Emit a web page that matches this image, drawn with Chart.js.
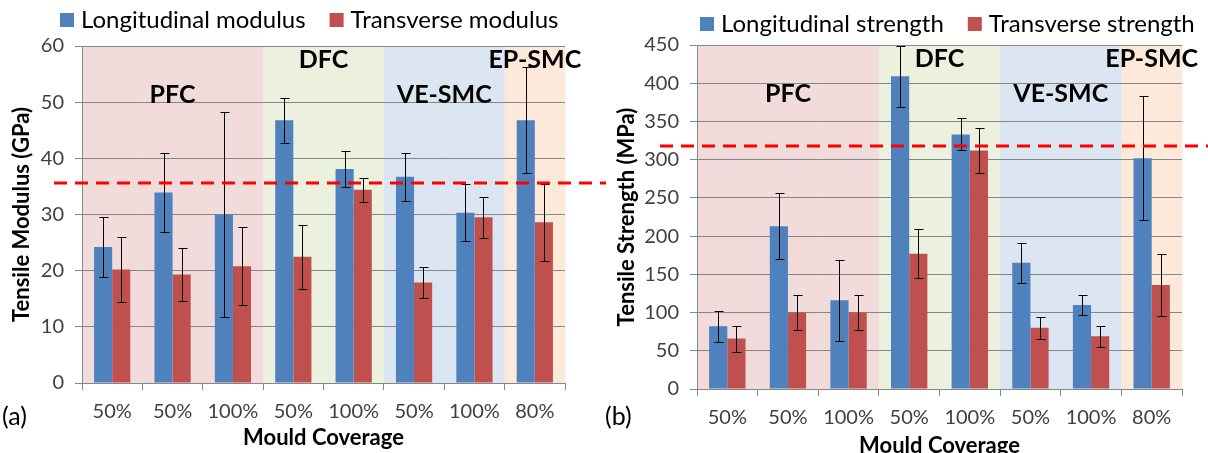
<!DOCTYPE html>
<html>
<head>
<meta charset="utf-8">
<script src="https://cdn.jsdelivr.net/npm/chart.js@4.4.0/dist/chart.umd.min.js"></script>
<style>
body{margin:0;background:#fff;overflow:hidden;width:1208px;height:453px;position:relative}
#wrapA{position:absolute;left:0;top:0;width:606px;height:453px}
#wrapB{position:absolute;left:600px;top:0;width:608px;height:462px}
</style>
</head>
<body>
<div id="wrapA"><canvas id="modChart" width="606" height="453"></canvas></div>
<div id="wrapB"><canvas id="strChart" width="608" height="462"></canvas></div>
<script>

// mould coverage for each sample, and which material it belongs to
var categories = ['50%','50%','100%','50%','100%','50%','100%','80%']
var groupOf = ['PFC','PFC','PFC','DFC','DFC','VE-SMC','VE-SMC','EP-SMC']

// (a) tensile modulus, GPa  (value +/- error)
var modLong     = [24.2, 33.9, 30.0, 46.8, 38.1, 36.7, 30.3, 46.8]
var modLongErr  = [5.3, 7.0, 18.2, 4.0, 3.2, 4.3, 5.1, 9.4]
var modTrans    = [20.2, 19.3, 20.8, 22.5, 34.4, 17.9, 29.5, 28.6]
var modTransErr = [5.8, 4.7, 6.9, 5.7, 2.1, 2.7, 3.7, 6.9]
var modRef = 35.6
var modTicks = [0, 10, 20, 30, 40, 50, 60]

// (b) tensile strength, MPa
var strLong     = [82, 213, 116, 409, 333, 165, 110, 302]
var strLongErr  = [20, 43, 53, 40, 21, 26, 13, 81]
var strTrans    = [66, 100, 100, 177, 312, 80, 69, 136]
var strTransErr = [17, 23, 23, 32, 29, 14, 14, 41]
var strRef = 318
var strTicks = [0, 50, 100, 150, 200, 250, 300, 350, 400, 450]

var bandColors = {'PFC':'#f2dcdb', 'DFC':'#ebf1de', 'VE-SMC':'#dce6f2', 'EP-SMC':'#fde9d9'}
var upperLabels = ['DFC', 'EP-SMC']

var FONT = 'Lato'

var decor = {
    id: 'decor',
    beforeDraw: function(chart, args, opt){
        var ctx = chart.ctx, x = chart.scales.x, a = chart.chartArea
        var half = (x.getPixelForValue(1) - x.getPixelForValue(0)) / 2
        ctx.save()
        for (var i = 0; i < groupOf.length; i++){
            ctx.fillStyle = bandColors[groupOf[i]]
            var l = x.getPixelForValue(i) - half
            ctx.fillRect(l, a.top, half * 2 + 0.5, a.bottom - a.top)
        }
        ctx.restore()
    },
    afterDatasetsDraw: function(chart, args, opt){
        var ctx = chart.ctx, x = chart.scales.x, y = chart.scales.y, a = chart.chartArea
        ctx.save()

        // group labels
        var seen = []
        ctx.font = 'bold 25px ' + FONT
        ctx.fillStyle = '#000'
        ctx.textAlign = 'center'
        ctx.textBaseline = 'middle'
        groupOf.forEach(function(g, i){
            if (seen.indexOf(g) >= 0) return
            seen.push(g)
            var last = groupOf.lastIndexOf(g)
            var cx = (x.getPixelForValue(i) + x.getPixelForValue(last)) / 2
            var cy = a.top + (upperLabels.indexOf(g) >= 0 ? 14 : 49)
            ctx.fillText(g, cx, cy)
        })

        // error bars
        ctx.strokeStyle = '#000'
        ctx.lineWidth = 1
        chart.data.datasets.forEach(function(ds, i){
            var meta = chart.getDatasetMeta(i)
            meta.data.forEach(function(bar, j){
                var v = ds.data[j], e = ds.err[j]
                var bx = Math.round(bar.x) + 0.5
                var yh = Math.round(y.getPixelForValue(v + e)) + 0.5
                var yl = Math.round(y.getPixelForValue(v - e)) + 0.5
                ctx.beginPath()
                ctx.moveTo(bx, yh); ctx.lineTo(bx, yl)
                ctx.moveTo(bx - 4, yh); ctx.lineTo(bx + 5, yh)
                ctx.moveTo(bx - 4, yl); ctx.lineTo(bx + 5, yl)
                ctx.stroke()
            })
        })

        // reference line
        var ry = y.getPixelForValue(opt.ref)
        ctx.strokeStyle = '#ff0000'
        ctx.lineWidth = 3
        ctx.setLineDash([13, 8])
        ctx.beginPath()
        ctx.moveTo(opt.refStart, ry)
        ctx.lineTo(chart.width, ry)
        ctx.stroke()
        ctx.setLineDash([])
        ctx.restore()
    },
    afterDraw: function(chart, args, opt){
        var ctx = chart.ctx
        ctx.save()
        // legend
        ctx.font = '24px ' + FONT
        ctx.textBaseline = 'middle'
        ctx.textAlign = 'left'
        var lx = opt.legendX
        chart.data.datasets.forEach(function(ds){
            ctx.fillStyle = ds.backgroundColor
            ctx.fillRect(lx, opt.legendY - 7, 14, 14)
            ctx.fillStyle = '#000'
            ctx.fillText(ds.label, lx + 21, opt.legendY)
            lx += 21 + ctx.measureText(ds.label).width + 24
        })
        // panel tag
        ctx.font = '25px ' + FONT
        ctx.fillText(opt.tag, opt.tagX, 417)
        ctx.restore()
    }
}

function makeChart(id, o){
    var ctx = document.getElementById(id).getContext('2d')
    return new Chart(ctx, {
        type: 'bar',
        data: {
            labels: categories,
            datasets: [
                {label: o.names[0], data: o.long, err: o.longErr, backgroundColor: '#4f81bd',
                 categoryPercentage: 0.6, barPercentage: 1},
                {label: o.names[1], data: o.trans, err: o.transErr, backgroundColor: '#c0504d',
                 categoryPercentage: 0.6, barPercentage: 1}
            ]
        },
        options: {
            responsive: false,
            animation: false,
            layout: {padding: {top: o.top, right: o.right, left: 0, bottom: 0}},
            plugins: {
                legend: {display: false},
                tooltip: {enabled: false},
                decor: {ref: o.ref, refStart: o.refStart, legendX: o.legendX, legendY: o.legendY, tag: o.tag, tagX: o.tagX}
            },
            scales: {
                x: {
                    grid: {offset: true, drawOnChartArea: false, tickLength: 7, color: '#868686'},
                    border: {color: '#868686'},
                    ticks: {font: {family: FONT, size: 20}, color: '#404040', padding: 10},
                    title: {display: true, text: 'Mould Coverage', color: '#000',
                            font: {family: FONT, size: 22, weight: 'bold'},
                            padding: {top: 0, bottom: o.xTitlePad}},
                    afterFit: function(s){ s.height = o.xHeight }
                },
                y: {
                    min: o.ticks[0], max: o.ticks[o.ticks.length - 1],
                    afterBuildTicks: function(s){ s.ticks = o.ticks.map(function(v){ return {value: v} }) },
                    grid: {color: '#868686', tickLength: 7},
                    border: {color: '#868686'},
                    ticks: {font: {family: FONT, size: 20}, color: '#404040', padding: 11},
                    title: {display: true, text: o.yTitle, color: '#000',
                            font: {family: FONT, size: 22, weight: 'bold'},
                            padding: {top: o.yTitlePad, bottom: 0}},
                    afterFit: function(s){ s.width = o.yWidth }
                }
            }
        },
        plugins: [decor]
    })
}

makeChart('modChart', {
    names: ['Longitudinal modulus', 'Transverse modulus'],
    long: modLong, longErr: modLongErr, trans: modTrans, transErr: modTransErr,
    ticks: modTicks, ref: modRef, yTitle: 'Tensile Modulus (GPa)',
    top: 46, right: 41, yWidth: 82, xHeight: 70, yTitlePad: 9, xTitlePad: 2,
    refStart: 54, legendX: 60, legendY: 20, tag: '(a)', tagX: 2
})

makeChart('strChart', {
    names: ['Longitudinal strength', 'Transverse strength'],
    long: strLong, longErr: strLongErr, trans: strTrans, transErr: strTransErr,
    ticks: strTicks, ref: strRef, yTitle: 'Tensile Strength (MPa)',
    top: 45, right: 26, yWidth: 97, xHeight: 73, yTitlePad: 14, xTitlePad: 3,
    refStart: 60, legendX: 100, legendY: 24, tag: '(b)', tagX: 5
})

</script>
</body>
</html>
